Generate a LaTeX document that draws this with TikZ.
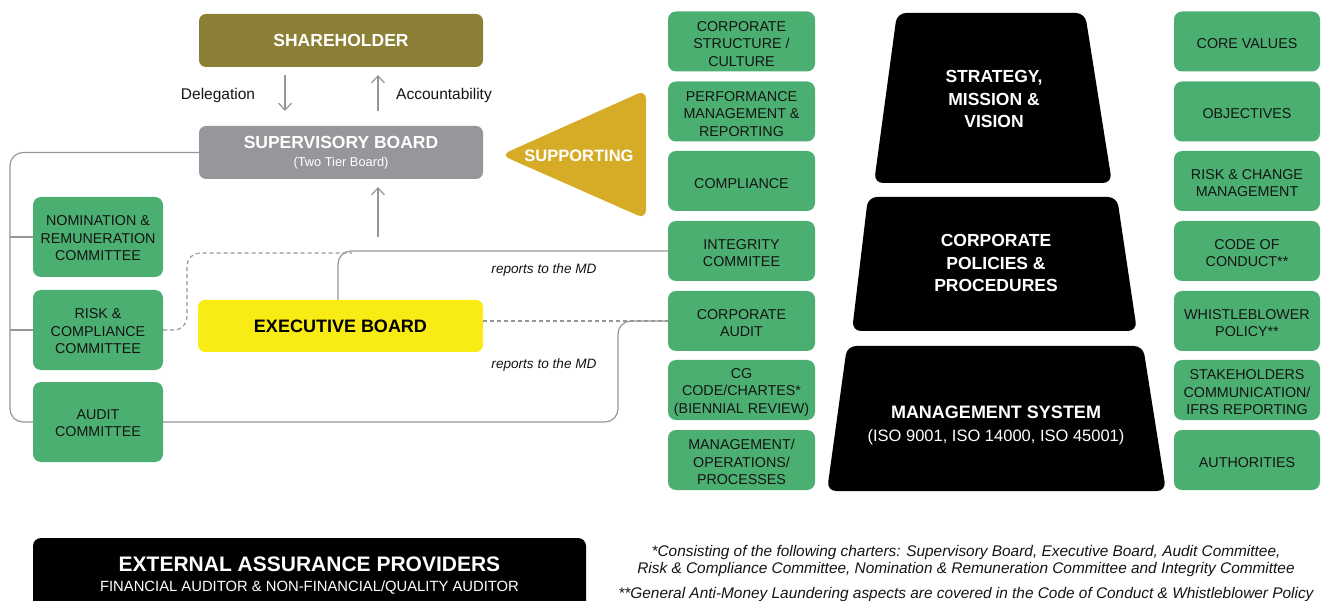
\documentclass[tikz,border=0pt]{standalone}
\usepackage{fontspec}
\setmainfont{Liberation Sans}
\usetikzlibrary{arrows.meta}
\definecolor{cgreen}{RGB}{75,175,113}
\definecolor{colive}{RGB}{139,128,53}
\definecolor{cgrey}{RGB}{150,151,155}
\definecolor{cyellow}{RGB}{249,235,20}
\definecolor{cgold}{RGB}{214,172,39}
\definecolor{cline}{RGB}{150,150,150}
\definecolor{ctext}{RGB}{20,20,20}
\newcommand\gfont{\fontsize{14.3}{17.5}\selectfont}
\newcommand\hfont{\fontsize{17.5}{21}\selectfont\bfseries}
\newcommand\gstrut{\rule{0pt}{14.5pt}}
\newcommand\cstrut{\rule{0pt}{12.5pt}}
\begin{document}
\begin{tikzpicture}[x=1pt,y=1pt,
  gbox/.style={fill=cgreen, rounded corners=8pt, minimum width=147pt, minimum height=60pt, align=center, font=\gfont, text=ctext, inner sep=0pt},
  cbox/.style={fill=cgreen, rounded corners=8pt, minimum width=130pt, minimum height=80pt, align=center, font=\gfont, text=ctext, inner sep=0pt},
  topbox/.style={rounded corners=7pt, minimum width=284pt, minimum height=53pt, align=center, inner sep=0pt},
  conn/.style={draw=cline, line width=1.2pt, rounded corners=13pt},
  dconn/.style={draw=cline, line width=1.2pt, dash pattern=on 4pt off 3pt, rounded corners=13pt},
  arr/.style={draw=cline, line width=1.2pt, -{Straight Barb[length=7pt,width=13pt,line width=1.2pt]}},
  trap/.style={fill=black, rounded corners=9pt},
  ttext/.style={text=white, align=center, font=\fontsize{17.5}{22.5}\selectfont\bfseries, inner sep=0pt},
  lbl/.style={font=\fontsize{15.5}{18}\selectfont, text=ctext, inner sep=0pt},
  rep/.style={font=\fontsize{13.6}{15}\selectfont\itshape, text=ctext, inner sep=0pt},
  fn/.style={font=\fontsize{15.4}{17}\selectfont\itshape, text=ctext, align=center, inner sep=0pt}
]
\useasboundingbox (0,0) rectangle (1322,-601);

% top left boxes
\node[topbox, fill=colive, text=white, font=\hfont] (sh) at (341,-40.5) {SHAREHOLDER};
\node[topbox, fill=cgrey, text=white, font=\hfont] (sup) at (341,-152.5)
  {SUPERVISORY BOARD\\[-3pt]{\fontsize{12.8}{14}\selectfont\mdseries (Two Tier Board)}};
\node[topbox, fill=cyellow, text=black, font=\fontsize{18}{21}\selectfont\bfseries, minimum width=285pt, minimum height=52pt] (exec) at (340.5,-326) {EXECUTIVE BOARD};

\node[lbl] (deleg) at (218,-95) {Delegation};
\node[lbl] (acc) at (444,-95) {Accountability};
\coordinate (d1) at (285,-75);
\coordinate (d2) at (285,-111);
\coordinate (a1) at (378,-111);
\coordinate (a2) at (378,-75);
\coordinate (e1) at (378,-237);
\coordinate (e2) at (378,-187);
\draw[arr] (d1) -- (d2);
\draw[arr] (a1) -- (a2);
\draw[arr] (e1) -- (e2);

% committees
\node[cbox] (nom) at (98,-237) {\cstrut NOMINATION \&\\REMUNERATION\\COMMITTEE};
\node[cbox] (risk) at (98,-330) {\cstrut RISK \&\\COMPLIANCE\\COMMITTEE};
\node[cbox] (audit) at (98,-422) {\cstrut AUDIT\\COMMITTEE};

% supporting triangle
\fill[cgold, rounded corners=9pt] (501,-155) -- (646,-90) -- (646,-219) -- cycle;
\node[text=white, font=\fontsize{16.5}{18}\selectfont\bfseries, inner sep=0pt] (supp) at (579,-156) {SUPPORTING};

% middle column
\node[gbox] (cs) at (741.5,-41.5) {\gstrut CORPORATE\\STRUCTURE /\\CULTURE};
\node[gbox] (pm) at (741.5,-111.5) {\gstrut PERFORMANCE\\MANAGEMENT \&\\REPORTING};
\node[gbox] (comp) at (741.5,-181) {\gstrut COMPLIANCE};
\node[gbox] (integ) at (741.5,-251) {\gstrut INTEGRITY\\COMMITEE};
\node[gbox] (caudit) at (741.5,-321) {\gstrut CORPORATE\\AUDIT};
\node[gbox] (cg) at (741.5,-390) {\gstrut CG\\CODE/CHARTES*\\(BIENNIAL REVIEW)};
\node[gbox] (mop) at (741.5,-460) {\gstrut MANAGEMENT/\\OPERATIONS/\\PROCESSES};

% right column
\node[gbox, minimum width=146pt] (cv) at (1247,-41.5) {\gstrut CORE VALUES};
\node[gbox, minimum width=146pt] (obj) at (1247,-111.5) {\gstrut OBJECTIVES};
\node[gbox, minimum width=146pt] (rcm) at (1247,-181) {\gstrut RISK \& CHANGE\\MANAGEMENT};
\node[gbox, minimum width=146pt] (coc) at (1247,-251) {\gstrut CODE OF\\CONDUCT**};
\node[gbox, minimum width=146pt] (wb) at (1247,-321) {\gstrut WHISTLEBLOWER\\POLICY**};
\node[gbox, minimum width=146pt] (stk) at (1247,-390) {\gstrut STAKEHOLDERS\\COMMUNICATION/\\IFRS REPORTING};
\node[gbox, minimum width=146pt] (auth) at (1247,-460) {\gstrut AUTHORITIES};

% trapezoids
\fill[trap] (897,-13) -- (1085,-13) -- (1112,-183) -- (874,-183) -- cycle;
\fill[trap] (868,-197) -- (1117,-197) -- (1137,-331) -- (852,-331) -- cycle;
\fill[trap] (847,-346) -- (1143,-346) -- (1166,-491) -- (827,-491) -- cycle;
\node[ttext] (strat) at (994,-99) {STRATEGY,\\MISSION \&\\VISION};
\node[ttext] (pol) at (996,-263) {CORPORATE\\POLICIES \&\\PROCEDURES};
\node[ttext, font=\fontsize{18}{21}\selectfont\bfseries] (ms) at (996,-412) {MANAGEMENT SYSTEM};
\node[text=white, font=\fontsize{16.5}{19}\selectfont, inner sep=0pt] (iso) at (996,-437) {(ISO 9001, ISO 14000, ISO 45001)};

% connectors
\coordinate (bus) at (10,-300);
\draw[conn] (sup.west) -| (bus) |- (audit.west);
\draw[conn] (nom.west) -- (nom.west -| bus);
\draw[conn] (risk.west) -- (risk.west -| bus);

\coordinate (dc) at (187,-253);
\coordinate (dend) at (352,-253);
\draw[dconn] (risk.east) -| (dc) -- (dend);
\draw[conn] (exec.north -| 338,0) |- (integ.west);
\draw[dconn] (exec.east |- caudit.west) -- (caudit.west);
\coordinate (cx) at (618,-380);
\draw[conn] (audit.east) -| (cx) |- (caudit.west);

\node[rep] (rep1) at (544,-270) {reports to the MD};
\node[rep] (rep2) at (544,-365) {reports to the MD};

% external assurance
\node[fill=black, rounded corners=8pt, minimum width=553pt, minimum height=76pt, inner sep=0pt] (ext) at (309.5,-576) {};
\node[text=white, font=\fontsize{21}{24}\selectfont\bfseries, inner sep=0pt] (extt) at (309.5,-564) {EXTERNAL ASSURANCE PROVIDERS};
\node[text=white, font=\fontsize{14.8}{17}\selectfont, inner sep=0pt] (exts) at (309.5,-588) {FINANCIAL AUDITOR \& NON-FINANCIAL/QUALITY AUDITOR};

% footnotes
\node[fn] (fn1) at (966,-561) {*Consisting of the following charters: Supervisory Board, Executive Board, Audit Committee,\\Risk \& Compliance Committee, Nomination \& Remuneration Committee and Integrity Committee};
\node[fn] (fn2) at (966,-594.5) {**General Anti-Money Laundering aspects are covered in the Code of Conduct \& Whistleblower Policy};
\end{tikzpicture}
\end{document}
